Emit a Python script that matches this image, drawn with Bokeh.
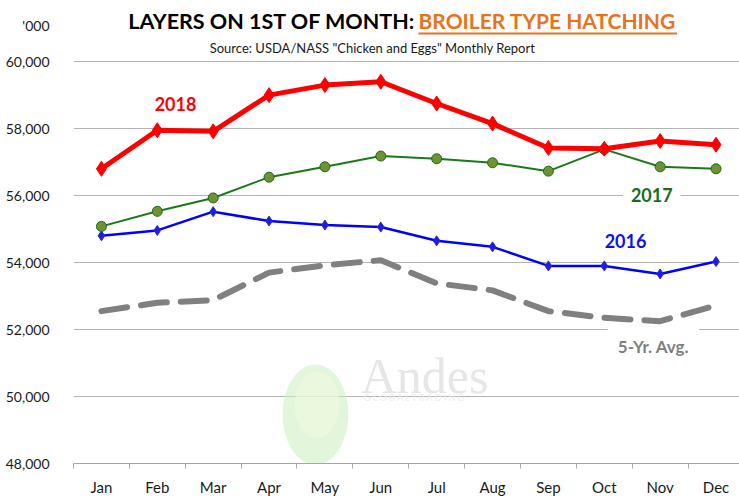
from bokeh.plotting import figure
from bokeh.models import Label, FixedTicker, Range1d
from bokeh.embed import file_html
from bokeh.resources import INLINE

months = ["Jan", "Feb", "Mar", "Apr", "May", "Jun", "Jul", "Aug", "Sep", "Oct", "Nov", "Dec"]
y2018 = [56800, 57950, 57920, 59000, 59300, 59400, 58750, 58150, 57420, 57400, 57630, 57520]
y2017 = [55080, 55530, 55930, 56550, 56860, 57180, 57100, 56980, 56730, 57380, 56860, 56800]
y2016 = [54800, 54960, 55520, 55240, 55120, 55060, 54650, 54470, 53900, 53900, 53660, 54030]
avg5 = [52550, 52800, 52880, 53700, 53920, 54070, 53380, 53170, 52550, 52350, 52250, 52720]
y_ticks = [48000, 50000, 52000, 54000, 56000, 58000, 60000]
unit_label = "'000"
unit_pos = 61077

FONT = "Lato"
xs = [i + 0.5 for i in range(len(months))]

p = figure(width=739, height=500, output_backend="svg", toolbar_location=None,
           x_range=Range1d(0, 11.92), y_range=Range1d(48000, 61826),
           min_border_left=73, min_border_right=0, min_border_top=0, min_border_bottom=37)
p.outline_line_color = None
p.background_fill_color = "white"

# axes
p.xaxis.ticker = FixedTicker(ticks=xs, minor_ticks=list(range(13)))
p.xaxis.major_label_overrides = {x: m for x, m in zip(xs, months)}
p.xaxis.major_tick_line_color = None
p.xaxis.minor_tick_line_color = "#a6a6a6"
p.xaxis.minor_tick_out = 5
p.xaxis.minor_tick_in = 0
p.xaxis.axis_line_color = "#a6a6a6"
p.xaxis.major_label_text_font = FONT
p.xaxis.major_label_text_font_size = "15px"
p.xaxis.major_label_text_color = "#1a1a1a"
p.xaxis.major_label_standoff = 8

labels = {t: f"{t:,}" for t in y_ticks}
labels[unit_pos] = "\u00a0" * 3 + unit_label
p.yaxis.ticker = FixedTicker(ticks=y_ticks + [unit_pos])
p.yaxis.major_label_overrides = labels
p.yaxis.axis_line_color = None
p.yaxis.major_tick_line_color = None
p.yaxis.minor_tick_line_color = None
p.yaxis.major_label_text_font = FONT
p.yaxis.major_label_text_font_size = "14px"
p.yaxis.major_label_text_color = "#1a1a1a"
p.yaxis.major_label_standoff = 18

p.xgrid.grid_line_color = None
p.ygrid.ticker = FixedTicker(ticks=y_ticks)
p.ygrid.grid_line_color = "#b3b3b3"
p.ygrid.grid_line_width = 1

# watermark
p.ellipse(x=[4.33], y=[49461], width=1.18, height=2990, fill_color="#c8efbd",
          fill_alpha=0.55, line_color=None)
p.ellipse(x=[4.36], y=[49750], width=0.8, height=2000, fill_color="#f3fbe0",
          fill_alpha=0.55, line_color=None)
p.add_layout(Label(x=5.14, y=50599, text="Andes", text_font="Liberation Serif",
                   text_font_size="50px", text_color="#e6e6e6", text_baseline="middle"))
p.add_layout(Label(x=5.2, y=49980, text="G L O B A L   T R A D I N G", text_font=FONT,
                   text_font_size="9px", text_color="#ededed", text_baseline="middle"))

# series
p.line(xs, avg5, line_color="#808080", line_width=6, line_dash="26 14", line_cap="round")
p.line(xs, y2016, line_color="#0000ff", line_width=2.5)
p.scatter(xs, y2016, marker="diamond", size=10, fill_color="#1a1aff", line_color="#3030a0")
p.line(xs, y2017, line_color="#1a7a1a", line_width=2)
p.scatter(xs, y2017, marker="circle", size=10, fill_color="#6f9334", line_color="#1a6a1a")
p.line(xs, y2018, line_color="#ff0000", line_width=5)
p.scatter(xs, y2018, marker="diamond", size=15, fill_color="#ff0000", line_color="#ff0000")

# series labels
p.add_layout(Label(x=1.826, y=58743, text="2018", text_font=FONT, text_font_style="bold",
                   text_font_size="18px", text_color="#ff0000", text_align="center",
                   text_baseline="middle"))
p.add_layout(Label(x=10.35, y=56018, text="2017", text_font=FONT, text_font_style="bold",
                   text_font_size="18px", text_color="#1a6e1a", text_align="center",
                   text_baseline="middle", background_fill_color="white", padding=8))
p.add_layout(Label(x=9.88, y=54640, text="2016", text_font=FONT, text_font_style="bold",
                   text_font_size="18px", text_color="#1010ee", text_align="center",
                   text_baseline="middle"))
p.add_layout(Label(x=10.38, y=51497, text="5-Yr. Avg.", text_font=FONT, text_font_style="bold",
                   text_font_size="17px", text_color="#7f7f7f", text_align="center",
                   text_baseline="middle", background_fill_color="white", padding=10))

# title & subtitle
p.add_layout(Label(x=6.12, y=61228, text="LAYERS ON 1ST OF MONTH:", text_font=FONT,
                   text_font_style="bold", text_font_size="21.5px", text_color="#000000",
                   text_align="right", text_baseline="middle"))
p.add_layout(Label(x=6.175, y=61228, text="BROILER TYPE HATCHING", text_font=FONT,
                   text_font_style="bold", text_font_size="21px", text_color="#e8731a",
                   text_align="left", text_baseline="middle"))
p.segment(x0=[6.175], y0=[60838], x1=[10.8], y1=[60838], line_color="#e8731a", line_width=2)
p.add_layout(Label(x=5.35, y=60419, text='Source: USDA/NASS "Chicken and Eggs" Monthly Report',
                   text_font=FONT, text_font_size="13px", text_color="#1a1a1a",
                   text_align="center", text_baseline="middle"))

open("out.html", "w").write(file_html(p, INLINE))
